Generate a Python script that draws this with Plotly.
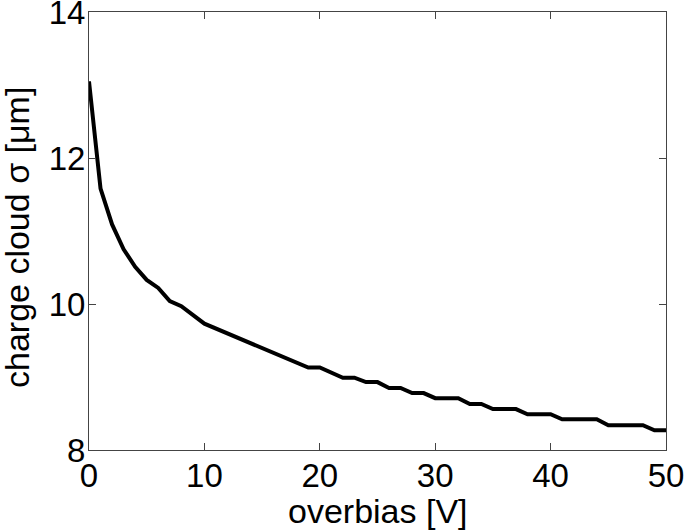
import plotly.graph_objects as go

# overbias voltage [V] and charge cloud sigma [um]
overbias = [0, 1, 2, 3, 4, 5, 6, 7, 8, 10, 19, 20, 22, 23, 24, 25, 26, 27, 28, 29,
            30, 32, 33, 34, 35, 37, 38, 40, 41, 44, 45, 48, 49, 50]
sigma = [13.05, 11.58, 11.09, 10.75, 10.51, 10.33, 10.22, 10.04, 9.97, 9.73,
         9.13, 9.13, 8.99, 8.99, 8.93, 8.93, 8.85, 8.85, 8.78, 8.78,
         8.71, 8.71, 8.63, 8.63, 8.56, 8.56, 8.49, 8.49, 8.42, 8.42,
         8.34, 8.34, 8.27, 8.27]

x_ticks = [0, 10, 20, 30, 40, 50]
y_ticks = [8, 10, 12, 14]

fig = go.Figure()
fig.add_trace(go.Scatter(x=overbias, y=sigma, mode='lines',
                         line=dict(color='black', width=4),
                         showlegend=False))

axis_style = dict(
    showgrid=False,
    zeroline=False,
    showline=True,
    linecolor='#444444',
    linewidth=1,
    mirror='ticks',
    ticks='inside',
    ticklen=7,
    tickcolor='#444444',
    ticklabeloverflow='allow',
    ticklabelstandoff=-4,
    tickfont=dict(size=33, color='black'),
    automargin=False,
)

fig.update_layout(
    width=685,
    height=531,
    margin=dict(l=89, r=19, t=12, b=81),
    plot_bgcolor='white',
    paper_bgcolor='white',
    font=dict(family='Liberation Sans, Arial, sans-serif', color='black'),
    xaxis=dict(axis_style, range=[0, 50], tickvals=x_ticks),
    yaxis=dict(axis_style, range=[8, 14], tickvals=y_ticks),
)

# axis titles placed as annotations so they sit like the MATLAB original
fig.add_annotation(text='overbias [V]', xref='paper', yref='paper', x=0.5, y=0,
                   xanchor='center', yanchor='middle', yshift=-61,
                   showarrow=False, font=dict(size=34))
fig.add_annotation(text='charge cloud σ [μm]', xref='paper', yref='paper', x=0, y=0.5,
                   xanchor='center', yanchor='middle', xshift=-72, yshift=-7,
                   textangle=-90, showarrow=False, font=dict(size=34))

# the page body has a default 8px margin; drop it so the figure fills the window
fig.write_html("out.html", config={'displayModeBar': False},
               post_script="document.body.style.margin='0';")
